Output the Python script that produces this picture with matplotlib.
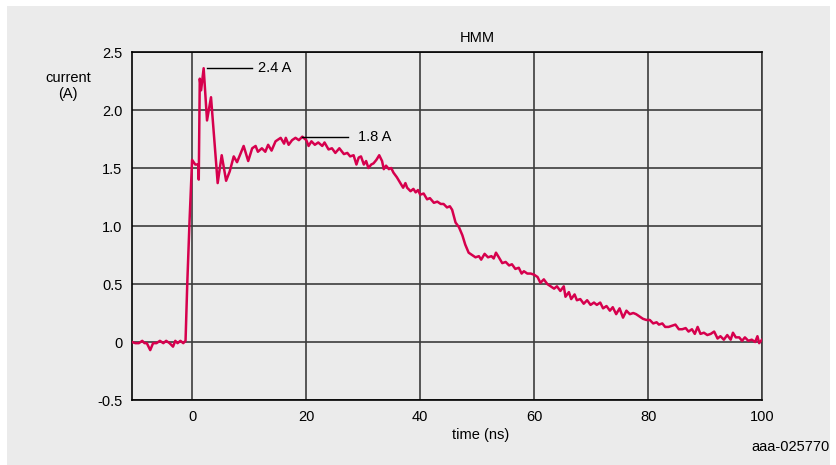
import matplotlib
matplotlib.use("Agg")
import matplotlib.pyplot as plt
from matplotlib.patches import Rectangle

plt.rcParams['font.family'] = ['Liberation Sans', 'DejaVu Sans']

# HMM discharge current waveform
time_ns = [
    -10.6, -10.0, -9.4, -8.8, -8.4, -8.0, -7.4, -6.9, -6.3, -5.7, -5.1, -4.6, -4.0, -3.4, -3.0, -2.6, -2.1, -1.6, -1.2,
    -0.9, -0.5, -0.05, 0.5, 1.05, 1.12, 1.3, 1.53, 1.98, 2.57, 3.27, 4.44, 5.15, 5.92, 6.55, 7.26, 7.84,
    9.0, 9.8, 10.5, 11.1, 11.5, 12.2, 12.8, 13.3, 13.9, 14.6, 15.5, 16.1, 16.4, 16.9, 17.5, 18.1, 18.7, 19.3,
    20.0, 20.4, 20.9, 21.5, 22.1, 22.8, 23.2, 23.9, 24.5, 25.1, 25.8,
    26.6, 27.2, 27.7, 28.3, 28.8, 29.2, 29.6, 30.1, 30.5, 30.9, 31.4, 31.8, 32.3, 32.8, 33.3, 33.6, 34.0, 34.5,
    34.9, 35.3, 35.9, 36.5, 37.0, 37.4, 37.7, 38.3, 38.8, 39.2, 39.6, 40.0, 40.6, 41.2, 41.7, 42.4, 43.0, 43.6, 44.1,
    44.7, 45.2, 45.6, 46.2, 46.8, 47.4, 47.9, 48.5, 49.1, 49.7, 50.3, 50.7, 51.3, 51.9, 52.5, 52.9, 53.3, 53.8,
    54.4, 55.0, 55.6, 56.1, 56.7, 57.3, 57.8, 58.2, 58.8, 59.4, 60.0, 60.6, 61.1, 61.7, 62.3, 62.9,
    63.5, 64.0, 64.6, 65.2, 65.5, 66.1, 66.5, 67.1, 67.5, 68.1, 68.7, 69.3, 69.9, 70.5, 71.0, 71.6, 72.1, 72.7,
    73.3, 73.8, 74.4, 75.0, 75.6, 76.2, 76.8, 77.4, 77.9, 78.5, 79.1, 79.7, 80.3, 80.9,
    81.5, 81.9, 82.5, 83.0, 83.6, 84.2, 84.8, 85.4, 86.0, 86.6, 87.1, 87.7, 88.2, 88.7, 89.2, 89.8, 90.4, 91.0,
    91.6, 92.2, 92.7, 93.3, 93.9, 94.5, 94.9, 95.4, 96.0, 96.5, 97.0, 97.6, 98.2, 98.8, 99.2, 99.5, 100.0,
]
current_a = [
    0.00, -0.01, -0.01, 0.01, -0.01, -0.01, -0.07, -0.01, -0.01, 0.01, -0.01, 0.01, -0.01, -0.04, 0.01, -0.01, 0.01, -0.01, 0.01,
    0.50, 1.04, 1.57, 1.53, 1.53, 1.40, 2.27, 2.17, 2.36, 1.91, 2.11, 1.37, 1.61, 1.39, 1.47, 1.60, 1.55,
    1.69, 1.56, 1.67, 1.69, 1.64, 1.67, 1.64, 1.70, 1.65, 1.73, 1.76, 1.71, 1.76, 1.70, 1.74, 1.76, 1.74, 1.77,
    1.74, 1.69, 1.73, 1.70, 1.72, 1.69, 1.72, 1.66, 1.67, 1.63, 1.67,
    1.62, 1.63, 1.60, 1.61, 1.53, 1.59, 1.60, 1.53, 1.56, 1.50, 1.53, 1.54, 1.57, 1.61, 1.56, 1.49, 1.52, 1.49,
    1.50, 1.46, 1.42, 1.37, 1.33, 1.37, 1.33, 1.30, 1.32, 1.29, 1.31, 1.27, 1.28, 1.23, 1.24, 1.20, 1.21, 1.19, 1.19,
    1.16, 1.17, 1.14, 1.03, 0.99, 0.92, 0.84, 0.77, 0.75, 0.73, 0.74, 0.71, 0.76, 0.73, 0.74, 0.72, 0.77, 0.73,
    0.68, 0.69, 0.66, 0.67, 0.63, 0.64, 0.59, 0.61, 0.59, 0.59, 0.58, 0.56, 0.51, 0.54, 0.50, 0.48,
    0.46, 0.48, 0.44, 0.48, 0.39, 0.43, 0.37, 0.41, 0.36, 0.37, 0.33, 0.36, 0.32, 0.34, 0.32, 0.34, 0.29, 0.31,
    0.27, 0.30, 0.24, 0.29, 0.21, 0.27, 0.24, 0.25, 0.24, 0.22, 0.20, 0.19, 0.19, 0.16,
    0.17, 0.15, 0.16, 0.13, 0.13, 0.14, 0.15, 0.11, 0.11, 0.12, 0.09, 0.11, 0.07, 0.13, 0.07, 0.08, 0.06, 0.07,
    0.09, 0.03, 0.05, 0.02, 0.06, 0.02, 0.08, 0.04, 0.04, 0.01, 0.04, 0.01, 0.02, 0.00, 0.05, -0.01, 0.02,
]

x_ticks = [0, 20, 40, 60, 80, 100]
y_ticks = [-0.5, 0, 0.5, 1.0, 1.5, 2.0, 2.5]
y_tick_labels = ["-0.5", "0", "0.5", "1.0", "1.5", "2.0", "2.5"]

BG = "#ebebeb"
LINE = "#d6004d"
GRID = "#3c3c3c"

fig = plt.figure(figsize=(8.36, 4.65), dpi=100)
fig.patch.set_facecolor("white")
fig.patches.append(Rectangle((7 / 836, 0), 823 / 836, 459 / 465, transform=fig.transFigure,
                             facecolor=BG, edgecolor="none", zorder=-10))

ax = fig.add_axes([132 / 836, (465 - 400) / 465, 630 / 836, 348 / 465])
ax.set_facecolor(BG)
ax.set_xlim(-10.6, 100)
ax.set_ylim(-0.5, 2.5)
ax.set_xticks(x_ticks)
ax.set_xticklabels([str(v) for v in x_ticks])
ax.set_yticks(y_ticks)
ax.set_yticklabels(y_tick_labels)
ax.tick_params(length=0, pad=7, labelsize=10.5, colors="black")
ax.grid(True, color=GRID, linewidth=1.2)
ax.set_axisbelow(True)
for side in ["left", "bottom", "top"]:
    ax.spines[side].set_color("black")
    ax.spines[side].set_linewidth(1.2)
ax.spines["right"].set_color(GRID)
ax.spines["right"].set_linewidth(1.2)

ax.plot(time_ns, current_a, color=LINE, linewidth=1.8, zorder=3)

# peak annotations
peak_i = max(range(len(current_a)), key=lambda i: current_a[i])
peak_val = current_a[peak_i]
ax.plot([2.6, 10.5], [peak_val, peak_val], color="black", linewidth=1, zorder=4)
ax.text(11.6, peak_val, f"{peak_val:.1f} A", fontsize=10.5, va="center", ha="left")

plateau = [c for t, c in zip(time_ns, current_a) if 10 <= t <= 30]
plateau_val = max(plateau)
ax.plot([19.3, 27.4], [plateau_val, plateau_val], color="black", linewidth=1, zorder=4)
ax.text(29.0, plateau_val, f"{plateau_val:.1f} A", fontsize=10.5, va="center", ha="left")

ax.text(50, 2.56, "HMM", fontsize=10.5, ha="center", va="bottom")
fig.text(68 / 836, 1 - 86 / 465, "current\n(A)", fontsize=10.5, ha="center", va="center",
         linespacing=1.2)
fig.text(481 / 836, 1 - 435 / 465, "time (ns)", fontsize=10.5, ha="center", va="center")
fig.text(830 / 836, 1 - 447 / 465, "aaa-025770", fontsize=10.5, ha="right", va="center")

fig.savefig("out.png", dpi=100, facecolor=fig.get_facecolor())
